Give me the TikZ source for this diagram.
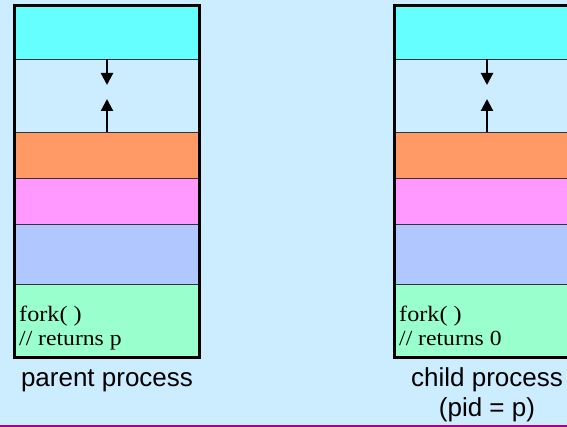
\documentclass[tikz,border=0pt]{standalone}
\usepackage{fontspec}
\setmainfont{Liberation Serif}
\newfontfamily\wideserif[FakeStretch=1.1]{Liberation Serif}
\newfontfamily\lsans{Liberation Sans}
\usetikzlibrary{arrows.meta}
\definecolor{bgblue}{HTML}{CCECFF}
\definecolor{cyanband}{HTML}{66FFFF}
\definecolor{orangeband}{HTML}{FF9966}
\definecolor{pinkband}{HTML}{FF99FF}
\definecolor{blueband}{HTML}{B0C8FF}
\definecolor{greenband}{HTML}{99FFCC}
\definecolor{purpleline}{HTML}{A000A0}
\tikzset{
  memband/.style={draw=black!80, line width=0.8pt, anchor=north west, inner sep=0pt,
    minimum width=185pt, outer sep=0pt},
  procframe/.style={draw=black, line width=3pt, anchor=north west, inner sep=0pt,
    minimum width=185pt, minimum height=351pt, outer sep=0pt},
  growarrow/.style={line width=2.2pt, -{Triangle[width=12pt,length=12pt]}},
  codeA/.style={anchor=base west, inner sep=0pt, font=\wideserif\fontsize{22}{24}\selectfont},
  codeB/.style={anchor=base west, inner sep=0pt, font=\wideserif\fontsize{21.5}{24}\selectfont},
  proclbl/.style={anchor=base, inner sep=0pt, font=\lsans\fontsize{26}{30}\selectfont}
}
\begin{document}
\begin{tikzpicture}[x=1pt,y=-1pt]
\useasboundingbox (0,0) rectangle (567,427);
\clip (0,0) rectangle (567,427);
\fill[bgblue] (0,0) rectangle (567,427);
\draw[purpleline, line width=1.6pt] (0,426) -- (567,426);
\foreach \n/\L in {p/14.5, c/394.5}{
  \node[memband, fill=cyanband, minimum height=53pt] (\n cyan) at (\L,6) {};
  \node[memband, fill=bgblue, minimum height=73pt] (\n gap) at (\L,59) {};
  \node[memband, fill=orangeband, minimum height=46pt] (\n orange) at (\L,132) {};
  \node[memband, fill=pinkband, minimum height=46pt] (\n pink) at (\L,178) {};
  \node[memband, fill=blueband, minimum height=60pt] (\n blue) at (\L,224) {};
  \node[memband, fill=greenband, minimum height=73pt] (\n green) at (\L,284) {};
  \node[procframe] (\n frame) at (\L,6) {};
  \coordinate (\n downtip) at ([yshift=-26pt]\n gap.north);
  \coordinate (\n uptip) at ([yshift=33pt]\n gap.south);
  \draw[growarrow] (\n gap.north) -- (\n downtip);
  \draw[growarrow] (\n gap.south) -- (\n uptip);
}
\node[codeA] (pfork) at (19,321.5) {fork( )};
\node[codeB] (pret) at (19,345.5) {// returns p};
\node[codeA] (cfork) at (399,321.5) {fork( )};
\node[codeB] (cret) at (399,345.5) {// returns 0};
\node[proclbl] (plabel) at (107,386.5) {parent process};
\node[proclbl] (clabel) at (487,386.5) {child process};
\node[proclbl] (cpid) at (487,416.5) {(pid = p)};
\end{tikzpicture}
\end{document}
